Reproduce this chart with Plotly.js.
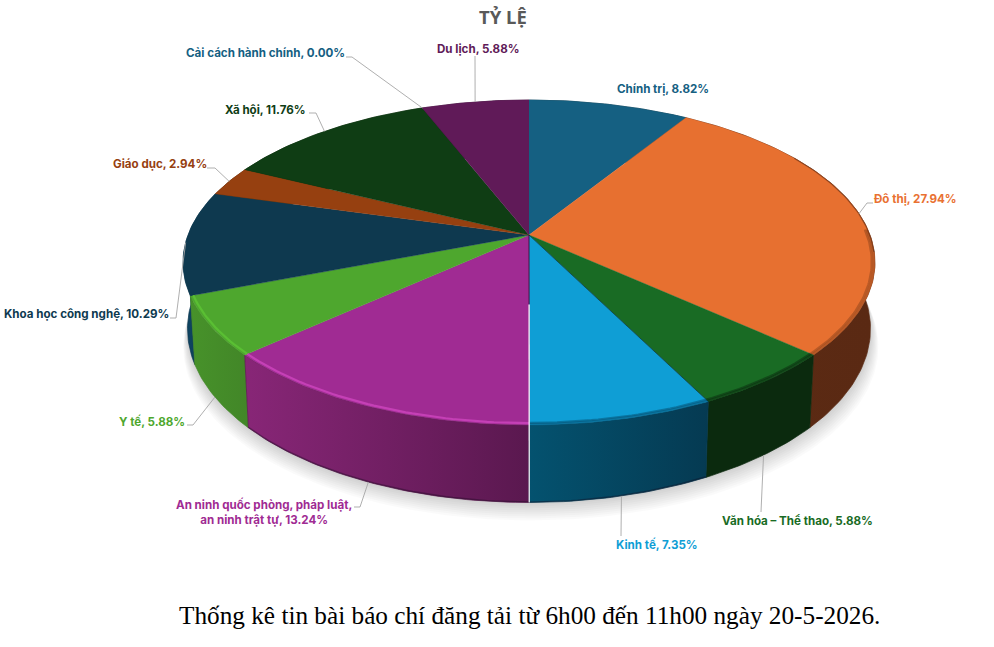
<!DOCTYPE html>
<html><head><meta charset="utf-8">
<script src="https://cdn.plot.ly/plotly-3.0.1.min.js"></script>
<style>html,body{margin:0;padding:0;background:#fff}#c{width:994px;height:647px}</style>
</head><body><div id="c"></div>
<script>
const chartTitle = 'TỶ LỆ';
const caption = 'Thống kê tin bài báo chí đăng tải từ 6h00 đến 11h00 ngày 20-5-2026.';
const categories = ['Chính trị','Đô thị','Văn hóa – Thể thao','Kinh tế','An ninh quốc phòng, pháp luật,<br>an ninh trật tự','Y tế','Khoa học công nghệ','Giáo dục','Xã hội','Cải cách hành chính','Du lịch'];
const shares = [8.82,27.94,5.88,7.35,13.24,5.88,10.29,2.94,11.76,0.00,5.88];
const topColors = ['#156082','#E77030','#196B24','#0F9ED5','#A02B93','#4EA72E','#0E394F','#964010','#0F3D14','#156082','#601A58'];
const labelColors = ['#156082','#E97132','#196B24','#0F9ED5','#A02B93','#4EA72E','#0E3A50','#964010','#0F3D14','#156082','#601A58'];
const wallLeft = ['#0d3a4e','#5c2b14','#0b2a0e','#04526f','#882677','#47922a','#0f4563','#5a2a0a','#0a2a0c','#0d3a4e','#3a1035'];
const wallRight = ['#0d3a4e','#5a2913','#0b2a0e','#053a52','#5a184f','#428628','#0c3850','#5a2a0a','#0a2a0c','#0d3a4e','#3a1035'];
const rimColors = [null,'rgba(110,52,22,0.38)','rgba(10,42,14,0.5)','rgba(6,84,118,0.55)','#C540B6','#5ABF33',null,null,null,null,null];
// label centre (x,y) and leader elbow, in picture pixels (x elbow, y elbow, x end)
const labelPos = [[663,88.7],[915,198.7],[797,520.7],[657,544.7],[264,511.5],[152,421.7],[86,313.7],[160,163.7],[265,109.7],[265,52.7],[478,48.7]];
const elbows = [null,[867,203,873],[761,512,761],[621,536,621],[360,507,354],[193,425,187],[176,318,170],[215,168,207],[316,113,309],[352,57,346],[475,56,475]];

// perspective projection of the tilted disc
const CX=529, CY=235, R=341, K=157.8, P=0.169, H=64.5, BASE_X=0.987;
function proj(thetaDeg, r, drop){
  const t=thetaDeg*Math.PI/180, X=r*Math.sin(t), Y=r*Math.cos(t), d=1+P*Y;
  return [CX+R*X/d*(drop?BASE_X:1), CY-K*Y/d+(drop?H/d:0)];
}
function arc(a,b,r,drop){
  const pts=[], n=Math.max(2,Math.ceil(Math.abs(b-a)));
  for(let i=0;i<=n;i++) pts.push(proj(a+(b-a)*i/n,r,drop));
  return pts;
}
const base={type:'scatter',showlegend:false,hoverinfo:'skip'};
function poly(pts,extra){return Object.assign({},base,{x:pts.map(p=>p[0]),y:pts.map(p=>p[1]),mode:'lines',fill:'toself',line:{width:0}},extra);}
function path(pts,color,width){return Object.assign({},base,{x:pts.map(p=>p[0]),y:pts.map(p=>p[1]),mode:'lines',line:{color:color,width:width,shape:'linear'}});}

const traces=[];
// soft cast shadow
for(let i=9;i>=1;i--){
  const pts=arc(0,360,1,true).map(p=>[CX+(p[0]-CX)*(1+0.002*i)+i*0.2,p[1]+i*2.0]);
  traces.push(poly(pts,{fillcolor:'rgba(0,0,0,0.018)'}));
}
// angle ranges
let cum=0; const ranges=shares.map(s=>{const a=cum/100*360; cum+=s; return [a,cum/100*360];});
ranges[ranges.length-1][1]=360;
// walls
const wallOrder=[7,8,9,10,0,6,1,5,2,4,3];
wallOrder.forEach(i=>{
  const [a,b]=ranges[i]; if(b-a<0.01) return;
  const pts=arc(a,b,1,false).concat(arc(b,a,1,true));
  pts.push(pts[0]);
  traces.push(poly(pts,{fillgradient:{type:'horizontal',colorscale:[[0,wallLeft[i]],[1,wallRight[i]]]},fillcolor:wallLeft[i],line:{width:0.7,color:wallRight[i]}}));
});
// darker bottom edge on the front
[3,4].forEach(i=>{traces.push(path(arc(ranges[i][0],ranges[i][1],1,true).map(p=>[p[0],p[1]-0.6]),'rgba(20,10,30,0.35)',1.4));});
// top faces
shares.forEach((s,i)=>{
  const [a,b]=ranges[i]; if(b-a<0.01) return;
  const pts=[[CX,CY]].concat(arc(a,b,1,false));
  traces.push(poly(pts,{fillcolor:topColors[i],line:{width:0.4,color:topColors[i]},name:categories[i]}));
});
// bevel along the rim of the visible edge
const RIM0=88, RIM1=262;
shares.forEach((s,i)=>{
  if(!rimColors[i]) return;
  const a=Math.max(ranges[i][0],RIM0), b=Math.min(ranges[i][1],RIM1); if(b<=a) return;
  const isLight=(i===4||i===5);
  if(isLight){
    traces.push(path(arc(a,b,0.992,false),rimColors[i],2.2));
  }else{
    traces.push(path(arc(a,b,0.991,false),rimColors[i],2.2));
    traces.push(path(arc(a,b,0.997,false),rimColors[i],2.4));
  }
});
// thin darker outer edge on the right of the large slice
traces.push(path(arc(58,96,0.999,false),'rgba(90,42,20,0.55)',1.1));
// separators: thin dark edge on the top face, white seam at the front
const kinhEnd=ranges[3][1], kinhStart=ranges[3][0];
traces.push(path([[CX,CY],proj(kinhStart,1,false)],'rgba(5,30,20,0.8)',0.8));
traces.push(path([[CX,CY],proj(kinhEnd,0.41,false)],'rgba(20,10,30,0.85)',0.8));
traces.push(path([proj(kinhEnd,0.41,false),proj(kinhEnd,1,false),proj(kinhEnd,1,true)],'#ffffff',1.2));
// leaders
elbows.forEach((e,i)=>{
  if(!e) return;
  const mid=(ranges[i][0]+ranges[i][1])/2;
  const front=Math.cos(mid*Math.PI/180)<-0.3;
  const st=proj(mid,1,front);
  traces.push(path([st,[e[0],e[1]],[e[2],e[1]]],'#A6A6A6',0.9));
});

const labelFont='Inter, "Noto Sans", sans-serif';
const annotations=categories.map((c,i)=>({
  xref:'x',yref:'y',x:labelPos[i][0],y:labelPos[i][1],xanchor:'center',yanchor:'middle',showarrow:false,align:'center',
  text:c+', '+shares[i].toFixed(2)+'%',
  font:{family:labelFont,size:11.6,weight:700,color:labelColors[i]}
}));
annotations.push({xref:'x',yref:'y',x:503,y:16,xanchor:'center',yanchor:'middle',showarrow:false,text:chartTitle,
  font:{family:'"Noto Sans", sans-serif',size:18.5,weight:700,color:'#595959'}});
annotations.push({xref:'x',yref:'y',x:529,y:615,xanchor:'center',yanchor:'middle',showarrow:false,text:caption,
  font:{family:'"Liberation Serif", serif',size:25.25,color:'#000000'}});

Plotly.newPlot('c',traces,{
  width:994,height:647,margin:{l:0,r:0,t:0,b:0},paper_bgcolor:'#fff',plot_bgcolor:'#fff',showlegend:false,
  xaxis:{range:[0,994],visible:false,fixedrange:true},
  yaxis:{range:[647,0],visible:false,fixedrange:true},
  annotations:annotations
},{displayModeBar:false,staticPlot:true});
</script></body></html>
